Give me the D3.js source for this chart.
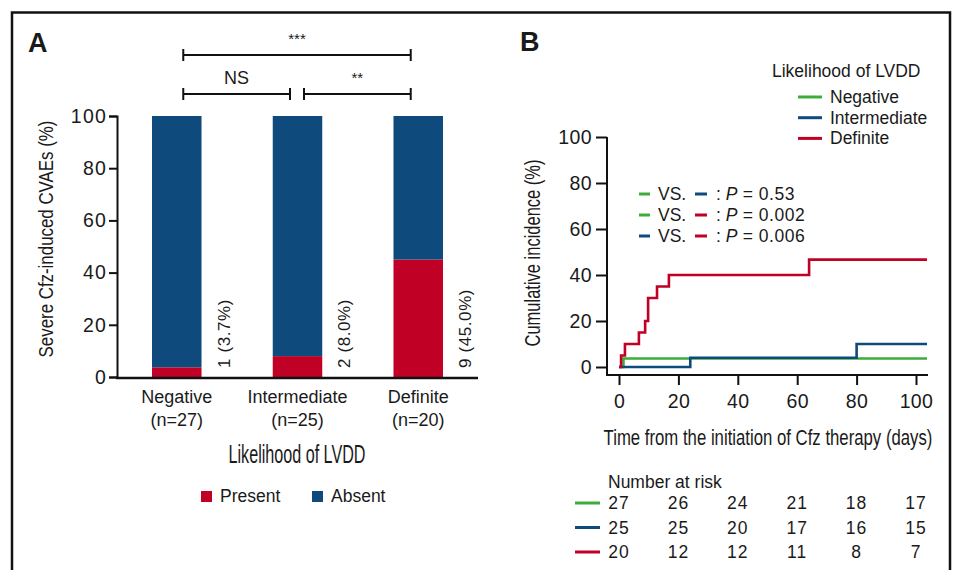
<!DOCTYPE html>
<html>
<head>
<meta charset="utf-8">
<script src="https://cdn.jsdelivr.net/npm/d3@7"></script>
<style>
  body { margin: 0; background: #fff; }
  svg { font-family: 'Liberation Sans', Arial, sans-serif; fill: #1a1a1a; }
</style>
</head>
<body>
<div id="chart"></div>
<script>
// panel A data
const categories = ['Negative', 'Intermediate', 'Definite'];
const groupN = [27, 25, 20];
const presentCounts = [1, 2, 9];
const presentPct = [3.7, 8.0, 45.0];
const absentPct = [96.3, 92.0, 55.0];
const yTicksA = [0, 20, 40, 60, 80, 100];

// panel B data (cumulative incidence, %)
const negTimes = [0, 1.5, 103.7];
const negValues = [0, 3.7, 3.7];
const intTimes = [0, 24, 80, 103.7];
const intValues = [0, 4, 10, 10];
const defTimes = [0, 0.7, 2, 6.7, 8.8, 9.8, 12.8, 16.8, 64, 103.7];
const defValues = [0, 5, 10, 15, 20, 30, 35, 40, 46.7, 46.7];
const xTicksB = [0, 20, 40, 60, 80, 100];
const yTicksB = [0, 20, 40, 60, 80, 100];
const pTests = [
    ['Negative', 'Intermediate', '0.53'],
    ['Negative', 'Definite', '0.002'],
    ['Intermediate', 'Definite', '0.006']
];
const riskTimes = [0, 20, 40, 60, 80, 100];
const riskNeg = [27, 26, 24, 21, 18, 17];
const riskInt = [25, 25, 20, 17, 16, 15];
const riskDef = [20, 12, 12, 11, 8, 7];

const WIDTH = 955;
const HEIGHT = 570;
const RED = '#c00025';
const BLUE = '#0f4a7c';
const GREEN = '#3cac3a';
const lineColor = { Negative: GREEN, Intermediate: BLUE, Definite: RED };

const svg = d3.select('#chart')
    .append('svg')
    .attr('width', WIDTH)
    .attr('height', HEIGHT);

// condensed axis titles: squeeze the regular font horizontally to the width in the figure
function narrowTitle(g, txt, size, len, x, y, rot) {
    const t = g.append('text')
        .attr('text-anchor', 'middle')
        .attr('font-size', size)
        .text(txt);
    const k = len / t.node().getComputedTextLength();
    t.attr('transform', `translate(${x},${y}) rotate(${rot}) scale(${k},1)`);
    return t;
}

// outer frame
svg.append('rect')
    .attr('x', 12).attr('y', 12.5)
    .attr('width', 938).attr('height', 570)
    .attr('fill', 'none')
    .attr('stroke', '#111')
    .attr('stroke-width', 2.5);

// ---------- panel A ----------
svg.append('text').text('A')
    .attr('x', 28).attr('y', 52)
    .attr('font-size', 27).attr('font-weight', 'bold');

const xA = d3.scaleBand().domain(categories).range([117, 478]).paddingInner(0.59).paddingOuter(0.29);
const yA = d3.scaleLinear().domain([0, 100]).range([377, 116]);

const gA = svg.append('g');

gA.selectAll('rect.present')
    .data(categories)
    .enter()
    .append('rect')
    .attr('x', d => xA(d))
    .attr('width', xA.bandwidth())
    .attr('y', (d, i) => yA(presentPct[i]))
    .attr('height', (d, i) => yA(0) - yA(presentPct[i]))
    .attr('fill', RED);

gA.selectAll('rect.absent')
    .data(categories)
    .enter()
    .append('rect')
    .attr('x', d => xA(d))
    .attr('width', xA.bandwidth())
    .attr('y', (d, i) => yA(presentPct[i] + absentPct[i]))
    .attr('height', (d, i) => yA(presentPct[i]) - yA(presentPct[i] + absentPct[i]))
    .attr('fill', BLUE);

// count labels
gA.selectAll('text.cnt')
    .data(categories)
    .enter()
    .append('text')
    .attr('transform', d => `translate(${xA(d) + xA.bandwidth() + 28},${yA(0) - 9}) rotate(-90)`)
    .attr('font-size', 17)
    .attr('letter-spacing', 0.6)
    .text((d, i) => `${presentCounts[i]} (${presentPct[i].toFixed(1)}%)`);

// y axis
const axA = gA.append('g')
    .attr('transform', 'translate(117,0)')
    .call(d3.axisLeft(yA).tickValues(yTicksA).tickSize(8).tickPadding(2));
axA.selectAll('path, line').attr('stroke', '#111').attr('stroke-width', 2);
axA.selectAll('text').attr('font-size', 19.5).attr('fill', '#1a1a1a')
    .attr('font-family', null).attr('letter-spacing', 1.2);

// x axis line
gA.append('line')
    .attr('x1', 116).attr('x2', 478)
    .attr('y1', yA(0) + 1).attr('y2', yA(0) + 1)
    .attr('stroke', '#111').attr('stroke-width', 2.5);

// category labels
const catText = gA.selectAll('text.cat')
    .data(categories)
    .enter()
    .append('text')
    .attr('text-anchor', 'middle')
    .attr('font-size', 18);
catText.append('tspan').attr('x', d => xA(d) + xA.bandwidth() / 2).attr('y', 403).text(d => d);
catText.append('tspan').attr('x', d => xA(d) + xA.bandwidth() / 2).attr('y', 426).text((d, i) => `(n=${groupN[i]})`);

narrowTitle(gA, 'Likelihood of LVDD', 25, 137, 297, 463, 0);
narrowTitle(gA, 'Severe Cfz-induced CVAEs (%)', 20.5, 237, 53, 239, -90);

// significance brackets
const brackets = [
    { from: 'Negative', to: 'Definite', y: 55, label: '***', x1off: 6.5, x2off: -7.5 },
    { from: 'Negative', to: 'Intermediate', y: 94, label: 'NS', x1off: 6.5, x2off: -7.5 },
    { from: 'Intermediate', to: 'Definite', y: 94, label: '**', x1off: 6.5, x2off: -7.5 }
];
brackets.forEach(b => {
    const x1 = xA(b.from) + xA.bandwidth() / 2 + b.x1off;
    const x2 = xA(b.to) + xA.bandwidth() / 2 + b.x2off;
    const g = gA.append('g').attr('stroke', '#111').attr('stroke-width', 2);
    g.append('line').attr('x1', x1).attr('x2', x2).attr('y1', b.y).attr('y2', b.y);
    g.append('line').attr('x1', x1).attr('x2', x1).attr('y1', b.y - 6).attr('y2', b.y + 6);
    g.append('line').attr('x1', x2).attr('x2', x2).attr('y1', b.y - 6).attr('y2', b.y + 6);
    gA.append('text')
        .attr('x', (x1 + x2) / 2)
        .attr('y', b.label === 'NS' ? b.y - 10 : b.y - 11)
        .attr('text-anchor', 'middle')
        .attr('font-size', b.label === 'NS' ? 18 : 15)
        .text(b.label);
});

// legend A
const legA = [['Present', RED, 201], ['Absent', BLUE, 312]];
legA.forEach(l => {
    gA.append('rect').attr('x', l[2]).attr('y', 491).attr('width', 11).attr('height', 11).attr('fill', l[1]);
    gA.append('text').attr('x', l[2] + 19).attr('y', 502).attr('font-size', 17.5).text(l[0]);
});

// ---------- panel B ----------
svg.append('text').text('B')
    .attr('x', 520).attr('y', 51)
    .attr('font-size', 27).attr('font-weight', 'bold');

const xB = d3.scaleLinear().domain([0, 100]).range([619, 916]);
const yB = d3.scaleLinear().domain([0, 100]).range([367, 137]);
const gB = svg.append('g');

const axBy = gB.append('g')
    .attr('transform', 'translate(607,0)')
    .call(d3.axisLeft(yB).tickValues(yTicksB).tickSize(11).tickPadding(4));
axBy.select('path').attr('d', `M0,${yB(100)}V376`);
const axBx = gB.append('g')
    .attr('transform', 'translate(0,375)')
    .call(d3.axisBottom(xB).tickValues(xTicksB).tickSize(10).tickPadding(9));
axBx.select('path').attr('d', 'M607,0H928');
[axBy, axBx].forEach(ax => {
    ax.selectAll('path, line').attr('stroke', '#111').attr('stroke-width', 2);
    ax.selectAll('text').attr('font-size', 19.5).attr('fill', '#1a1a1a')
        .attr('font-family', null).attr('letter-spacing', 0.4);
});

narrowTitle(gB, 'Time from the initiation of Cfz therapy (days)', 21.5, 329, 768, 445, 0);
narrowTitle(gB, 'Cumulative incidence (%)', 21.5, 187, 540, 253, -90);

// curves
const step = d3.line()
    .x(d => xB(d[0]))
    .y(d => yB(d[1]))
    .curve(d3.curveStepAfter);
const curves = [
    ['Negative', negTimes, negValues],
    ['Intermediate', intTimes, intValues],
    ['Definite', defTimes, defValues]
];
gB.selectAll('path.curve')
    .data(curves)
    .enter()
    .append('path')
    .attr('d', d => step(d[1].map((t, i) => [t, d[2][i]])))
    .attr('fill', 'none')
    .attr('stroke', d => lineColor[d[0]])
    .attr('stroke-width', 2.6);

// legend B
gB.append('text').attr('x', 772).attr('y', 77).attr('font-size', 17.5).text('Likelihood of LVDD');
categories.forEach((c, i) => {
    const y = 97 + i * 20.7;
    gB.append('line').attr('x1', 798).attr('x2', 822).attr('y1', y).attr('y2', y)
        .attr('stroke', lineColor[c]).attr('stroke-width', 3);
    gB.append('text').attr('x', 830).attr('y', y + 6).attr('font-size', 17.5).text(c);
});

// p-value legend
pTests.forEach((p, i) => {
    const y = 194 + i * 21;
    gB.append('line').attr('x1', 639).attr('x2', 650).attr('y1', y).attr('y2', y)
        .attr('stroke', lineColor[p[0]]).attr('stroke-width', 3);
    gB.append('text').attr('x', 658).attr('y', y + 6).attr('font-size', 17.5).text('VS.');
    gB.append('line').attr('x1', 695).attr('x2', 707).attr('y1', y).attr('y2', y)
        .attr('stroke', lineColor[p[1]]).attr('stroke-width', 3);
    const t = gB.append('text').attr('x', 716).attr('y', y + 6).attr('font-size', 17.5);
    t.append('tspan').text(': ');
    t.append('tspan').attr('font-style', 'italic').text('P');
    t.append('tspan').text(' = ' + p[2]).attr('letter-spacing', 0.5);
});

// number at risk table
gB.append('text').attr('x', 608).attr('y', 488).attr('font-size', 17.5).text('Number at risk');
const riskRows = [['Negative', riskNeg], ['Intermediate', riskInt], ['Definite', riskDef]];
riskRows.forEach((r, i) => {
    const y = 503 + i * 24.5;
    gB.append('line').attr('x1', 575).attr('x2', 600).attr('y1', y).attr('y2', y)
        .attr('stroke', lineColor[r[0]]).attr('stroke-width', 3);
    gB.selectAll(null)
        .data(r[1])
        .enter()
        .append('text')
        .attr('x', (d, j) => xB(riskTimes[j]))
        .attr('y', y + 6)
        .attr('text-anchor', 'middle')
        .attr('font-size', 17.5)
        .attr('letter-spacing', 1)
        .text(d => d);
});
</script>
</body>
</html>
